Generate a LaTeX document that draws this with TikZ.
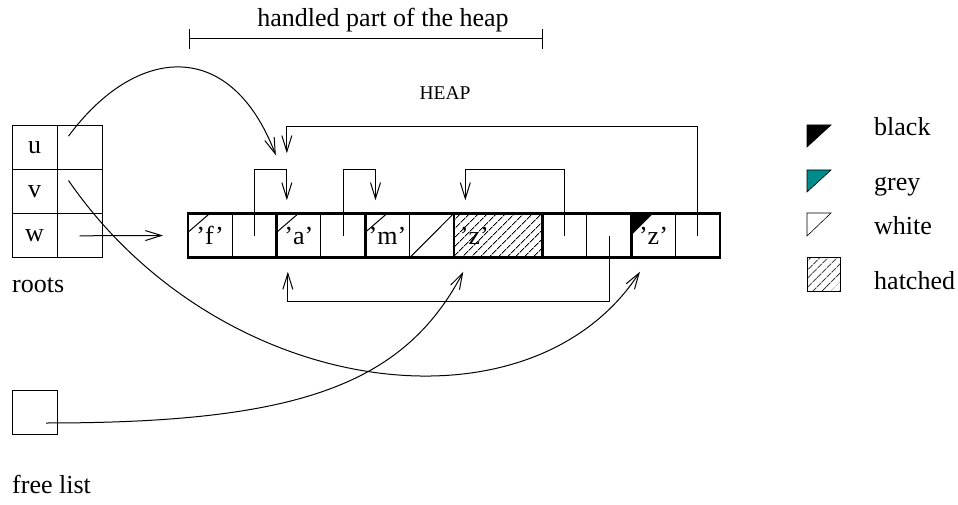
\documentclass[tikz,border=0pt]{standalone}
\usepackage{fontspec}
\setmainfont{Liberation Serif}
\usetikzlibrary{arrows.meta,patterns.meta}
\definecolor{markgrey}{RGB}{0,140,140}
\tikzset{
  cell/.style={draw,line width=1pt,minimum width=44.33pt,minimum height=44.5pt,inner sep=0pt,outer sep=0pt},
  heavy/.style={line width=2.6pt},
  ptr/.style={line width=1pt,-{Straight Barb[length=16pt,width=10pt,line width=1pt]}},
  hatch/.style={pattern={Lines[angle=45,distance=6.5pt,line width=1.1pt]}},
  keytext/.style={anchor=base west,inner sep=0pt},
}

\begin{document}
\begin{tikzpicture}[x=1pt,y=-1pt,font=\fontsize{26}{30}\selectfont]
\useasboundingbox (0,0) rectangle (958,505);

% root table
\foreach \n/\r in {u/147.2, v/191.5, w/235.8}{
  \node[cell,minimum width=45pt,minimum height=44.3pt] (l\n) at (34.5,\r) {\n};
  \node[cell,minimum width=45pt,minimum height=44.3pt] (r\n) at (79.5,\r) {};
}
\node[keytext] (rootslbl) at (12,292) {roots};

% free list
\node[cell,minimum width=45pt,minimum height=44pt] (fl) at (34.5,412) {};
\node[keytext] (freelbl) at (12,493) {free list};

% the heap cells
\node[cell,hatch,minimum width=88.67pt] (cz) at ({210.17+44.33*6.5},235.5) {};
\node (zname) at ([shift={(-24,0)}]cz.center) {’z’};
\foreach \n/\k/\t in {cf/0/’f’, pf/1/, ca/2/’a’, pa/3/, cm/4/’m’, cw/5/, pq/8/, pr/9/, cb/10/’z’, pb/11/}
  \node[cell] (\n) at ({210.17+44.33*\k},235.5) {\t};

% object borders
\draw[heavy] (cf.north west) rectangle (pb.south east);
\foreach \n in {ca,cm,cz,pq,cb}
  \draw[heavy] (\n.north west) -- (\n.south west);

% colour marks
\foreach \n in {cf,ca,cm}
  \draw[line width=1pt] ([shift={(0,19)}]\n.north west) -- ([shift={(22,0)}]\n.north west);
\draw[line width=1pt] (cw.south west) -- (cw.north east);
\fill ([shift={(0,22)}]cb.north west) -- (cb.north west) -- ([shift={(22,0)}]cb.north west) -- cycle;

% pointers inside the heap
\draw[ptr] (pf.center) -- ++(0,-66) -| ([shift={(-12,-13)}]ca.north);
\draw[ptr] (pa.center) -- ++(0,-66) -| ([shift={(-12,-13)}]cm.north);
\draw[ptr] (pq.center) -- ++(0,-66) -| ([shift={(-33,-13)}]cz.north);
\draw[ptr] (pr.center) -- ++(0,66) -| ([shift={(-11,14)}]ca.south);
\draw[ptr] (pb.center) -- ++(0,-109) -| ([shift={(-12,-60)}]ca.north);

% roots and free list into the heap
\draw[ptr] ([shift={(-11,-11)}]ru.center) .. controls (135,46) and (230,36) .. ([shift={(-23,-58)}]ca.north);
\draw[ptr] ([shift={(-11,-11)}]rv.center) .. controls (220,400) and (530,440) .. ([shift={(-13.5,14)}]cb.south);
\draw[ptr] (rw.center) -- ([shift={(-25,0)}]cf.west);
\draw[ptr] ([shift={(11.5,11)}]fl.center) .. controls (296,423) and (403,386) .. ([shift={(-35,14)}]cz.south);

% labels above
\node[font=\fontsize{19.5}{22}\selectfont] (heaplbl) at (445,93) {HEAP};
\node[anchor=base,inner sep=0pt] (spanlbl) at (383,27) {handled part of the heap};
\coordinate (spanl) at (189,39);
\coordinate (spanr) at (543,39);
\draw[line width=1pt,{Bar[width=20pt,line width=1pt]}-{Bar[width=20pt,line width=1pt]}] (spanl) -- (spanr);

% key
\filldraw[line width=0.6pt] (807,125) -- (831,125) -- (807,147) -- cycle;
\filldraw[fill=markgrey,line width=0.6pt] (807,170) -- (831,170) -- (807,192) -- cycle;
\draw[line width=0.6pt] (807,213) -- (831,213) -- (807,236) -- cycle;
\draw[hatch,line width=0.8pt] (807,257) rectangle (840,291);
\node[keytext] (keyblack) at (874,136) {black};
\node[keytext] (keygrey) at (874,190) {grey};
\node[keytext] (keywhite) at (874,234) {white};
\node[keytext] (keyhatch) at (874,289) {hatched};
\end{tikzpicture}
\end{document}
